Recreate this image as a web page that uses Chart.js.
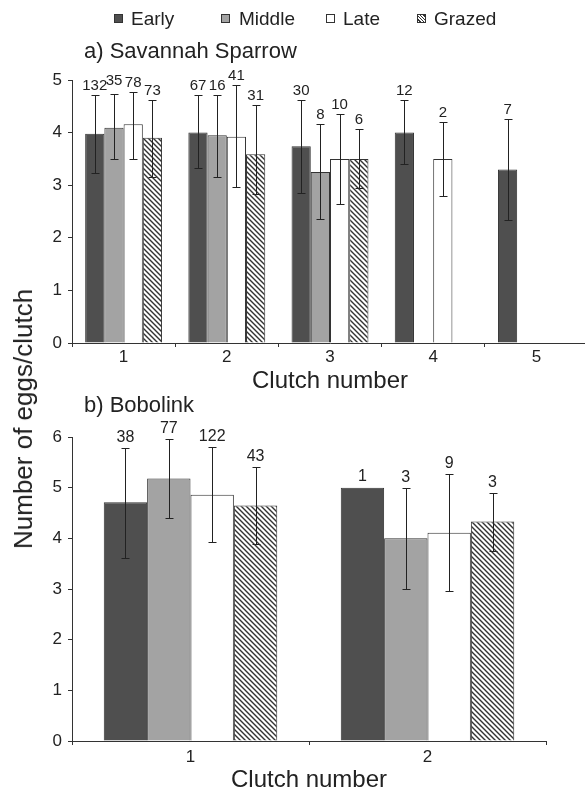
<!DOCTYPE html>
<html>
<head>
<meta charset="utf-8">
<script src="https://cdn.jsdelivr.net/npm/chart.js@4.4.1/dist/chart.umd.min.js"></script>
<style>
  body{margin:0;background:#fff;}
  #page{position:relative;width:585px;height:792px;overflow:hidden;background:#fff;
        font-family:'Liberation Sans',Arial,Helvetica,sans-serif;color:#222;}
  canvas{position:absolute;left:0;}
  #cA{top:0;}
  #cB{top:400px;}
  .txt{position:absolute;white-space:nowrap;line-height:1;}
  .sw{position:absolute;width:7px;height:7px;border:1px solid #333;}
</style>
</head>
<body>
<div id="page">
  <canvas id="cA" width="588" height="400"></canvas>
  <canvas id="cB" width="588" height="400"></canvas>

  <div id="legend"></div>
  <div class="txt" style="left:84px;top:40px;font-size:22px">a) Savannah Sparrow</div>
  <div class="txt" style="left:84px;top:394px;font-size:22px">b) Bobolink</div>
  <div class="txt" style="left:23px;top:419px;font-size:26px;transform:translate(-50%,-50%) rotate(-90deg)">Number of eggs/clutch</div>
</div>

<script>
// --- data: a) Savannah Sparrow ---
const clutchA = ['1','2','3','4','5'];
const sparrowEarly   = [3.98, 4.00, 3.74, 4.00, 3.30];
const sparrowEarlyLo = [3.23, 3.32, 2.86, 3.40, 2.34];
const sparrowEarlyHi = [4.72, 4.72, 4.62, 4.62, 4.25];
const sparrowEarlyN  = [132, 67, 30, 12, 7];
const sparrowMiddle   = [4.09, 3.95, 3.25, null, null];
const sparrowMiddleLo = [3.49, 3.16, 2.36, null, null];
const sparrowMiddleHi = [4.74, 4.72, 4.16, null, null];
const sparrowMiddleN  = [35, 16, 8, null, null];
const sparrowLate   = [4.16, 3.92, 3.50, 3.50, null];
const sparrowLateLo = [3.50, 2.97, 2.65, 2.79, null];
const sparrowLateHi = [4.78, 4.91, 4.36, 4.21, null];
const sparrowLateN  = [78, 41, 10, 2, null];
const sparrowGrazed   = [3.90, 3.59, 3.50, null, null];
const sparrowGrazedLo = [3.15, 2.83, 2.95, null, null];
const sparrowGrazedHi = [4.62, 4.52, 4.06, null, null];
const sparrowGrazedN  = [73, 31, 6, null, null];

// --- data: b) Bobolink ---
const clutchB = ['1','2'];
const boboEarly   = [4.71, 5.00];
const boboEarlyLo = [3.61, null];
const boboEarlyHi = [5.78, null];
const boboEarlyN  = [38, 1];
const boboMiddle   = [5.18, 4.00];
const boboMiddleLo = [4.40, 3.00];
const boboMiddleHi = [5.96, 4.99];
const boboMiddleN  = [77, 3];
const boboLate   = [4.86, 4.11];
const boboLateLo = [3.93, 2.97];
const boboLateHi = [5.80, 5.26];
const boboLateN  = [122, 9];
const boboGrazed   = [4.65, 4.33];
const boboGrazedLo = [3.88, 3.75];
const boboGrazedHi = [5.41, 4.90];
const boboGrazedN  = [43, 3];

const groupNames = ['Early','Middle','Late','Grazed'];
const yTicksA = [0,1,2,3,4,5];
const yTicksB = [0,1,2,3,4,5,6];

const FONT = "'Liberation Sans', Arial, Helvetica, sans-serif";
const INK = '#222';
Chart.defaults.font.family = FONT;
Chart.defaults.color = INK;

// hatch for "Grazed"
function hatch(){
  const c = document.createElement('canvas'); c.width = 5; c.height = 5;
  const g = c.getContext('2d');
  g.fillStyle = '#fff'; g.fillRect(0,0,5,5);
  g.strokeStyle = '#333'; g.lineWidth = 1.4;
  g.beginPath();
  [-5,0,5].forEach(k => { g.moveTo(k-1,-1); g.lineTo(k+6,6); });
  g.stroke();
  return g.createPattern(c, 'repeat');
}
const fills = ['#4f4f4f', '#a3a3a3', '#ffffff', hatch()];

// legend (html)
const legendPos = [[114,131],[221,239],[326,343],[417,434]];
const swCss = ['background:#4f4f4f','background:#a3a3a3','background:#fff',
  'background:repeating-linear-gradient(45deg,#fff 0 1.3px,#333 1.3px 2.3px)'];
const lg = document.getElementById('legend');
groupNames.forEach((name,i)=>{
  lg.insertAdjacentHTML('beforeend',
    `<div class="sw" style="left:${legendPos[i][0]}px;top:14px;${swCss[i]}"></div>`+
    `<div class="txt" style="left:${legendPos[i][1]}px;top:9px;font-size:19px">${name}</div>`);
});

// error bars + n labels (labels nudged up when they would collide)
const errorBars = {
  id: 'errorBars',
  afterDatasetsDraw(chart, args, opts){
    const { ctx } = chart; const y = chart.scales.y;
    ctx.save();
    ctx.font = `${opts.size}px ${FONT}`;
    const labels = [];
    chart.data.datasets.forEach((ds, i) => {
      chart.getDatasetMeta(i).data.forEach((bar, j) => {
        const v = ds.data[j];
        if (v == null) return;
        let top = y.getPixelForValue(v);
        const x = Math.round(bar.x) + 0.5;
        if (ds.lo[j] != null && ds.hi[j] != null){
          const yl = Math.round(y.getPixelForValue(ds.lo[j])) + 0.5;
          const yh = Math.round(y.getPixelForValue(ds.hi[j])) + 0.5;
          ctx.strokeStyle = INK; ctx.lineWidth = 1;
          ctx.beginPath();
          ctx.moveTo(x, yl); ctx.lineTo(x, yh);
          ctx.moveTo(x - opts.cap, yl); ctx.lineTo(x + opts.cap, yl);
          ctx.moveTo(x - opts.cap, yh); ctx.lineTo(x + opts.cap, yh);
          ctx.stroke();
          top = Math.min(top, yh);
        }
        const t = String(ds.n[j]);
        labels.push({ j, x: bar.x, y: top - opts.gap, t, w: ctx.measureText(t).width });
      });
    });
    labels.sort((a,b) => a.x - b.x);
    labels.forEach((l, k) => {
      const p = labels[k-1];
      if (p && (l.x - l.w/2) < (p.x + p.w/2) && Math.abs(l.y - p.y) < opts.size*0.8){
        l.y = p.y - 5;
      }
    });
    ctx.fillStyle = INK;
    ctx.textAlign = 'center'; ctx.textBaseline = 'middle';
    labels.forEach(l => ctx.fillText(l.t, l.x, l.y));
    ctx.restore();
  }
};

function makeChart(id, labels, series, o){
  return new Chart(document.getElementById(id), {
    type: 'bar',
    data: {
      labels,
      datasets: series.map((s, i) => ({
        label: groupNames[i], data: s.v, lo: s.lo, hi: s.hi, n: s.n,
        backgroundColor: fills[i], borderColor: '#333', borderWidth: 1,
        barPercentage: 1, categoryPercentage: o.catPct
      }))
    },
    options: {
      responsive: false, animation: false, devicePixelRatio: 1,
      layout: { padding: { top: o.top, right: o.right, left: 0, bottom: 0 } },
      plugins: { legend: { display: false }, tooltip: { enabled: false },
                 errorBars: { cap: 4, gap: o.gap, size: o.nSize } },
      scales: {
        x: {
          afterFit: sc => { sc.height = o.xH; },
          grid: { display: true, drawOnChartArea: false, tickLength: 4, color: '#333', offset: true },
          border: { display: true, color: '#333', width: 1 },
          ticks: { font: { size: 17 }, padding: o.xPad, color: INK },
          title: { display: true, text: 'Clutch number', font: { size: 24 }, color: INK,
                   padding: { top: 0, bottom: o.tPad } }
        },
        y: {
          min: 0, max: o.max,
          afterFit: sc => { sc.width = 72; },
          afterBuildTicks: sc => { sc.ticks = o.ticks.map(v => ({ value: v })); },
          grid: { display: true, drawOnChartArea: false, tickLength: 4, color: '#333' },
          border: { display: true, color: '#333', width: 1 },
          ticks: { font: { size: 17 }, padding: 6, color: INK }
        }
      }
    },
    plugins: [errorBars]
  });
}

makeChart('cA', clutchA, [
  { v: sparrowEarly,  lo: sparrowEarlyLo,  hi: sparrowEarlyHi,  n: sparrowEarlyN },
  { v: sparrowMiddle, lo: sparrowMiddleLo, hi: sparrowMiddleHi, n: sparrowMiddleN },
  { v: sparrowLate,   lo: sparrowLateLo,   hi: sparrowLateHi,   n: sparrowLateN },
  { v: sparrowGrazed, lo: sparrowGrazedLo, hi: sparrowGrazedHi, n: sparrowGrazedN }
], { top: 80, right: 0, xH: 57, xPad: 0, tPad: 4, catPct: 0.745, max: 5, ticks: yTicksA, gap: 10, nSize: 15 });

makeChart('cB', clutchB, [
  { v: boboEarly,  lo: boboEarlyLo,  hi: boboEarlyHi,  n: boboEarlyN },
  { v: boboMiddle, lo: boboMiddleLo, hi: boboMiddleHi, n: boboMiddleN },
  { v: boboLate,   lo: boboLateLo,   hi: boboLateHi,   n: boboLateN },
  { v: boboGrazed, lo: boboGrazedLo, hi: boboGrazedHi, n: boboGrazedN }
], { top: 37, right: 42, xH: 59, xPad: 2, tPad: 5, catPct: 0.732, max: 6, ticks: yTicksB, gap: 11, nSize: 16 });
</script>
</body>
</html>
